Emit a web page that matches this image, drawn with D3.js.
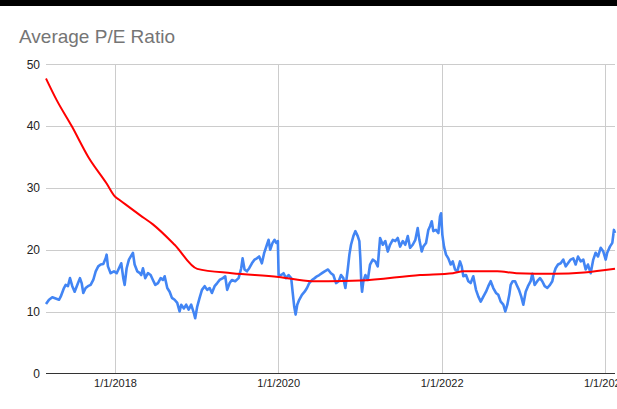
<!DOCTYPE html>
<html>
<head>
<meta charset="utf-8">
<script src="https://cdn.jsdelivr.net/npm/d3@7"></script>
<style>
  html, body { margin: 0; padding: 0; background: #fff; }
  svg { display: block; font-family: "Liberation Sans", Arial, sans-serif; }
</style>
</head>
<body>
<svg id="chart" width="617" height="409"></svg>
<script>
// ---- DATA (dates as decimal years) ----
const chartTitle = "Average P/E Ratio";

const dailyTimes = [
  2017.155,2017.192,2017.232,2017.274,2017.314,2017.335,2017.375,2017.396,2017.424,2017.449,
  2017.477,2017.506,2017.538,2017.571,2017.592,2017.612,2017.641,2017.669,2017.702,2017.734,
  2017.764,2017.795,2017.825,2017.857,2017.886,2017.898,2017.914,2017.947,2017.988,2018.021,
  2018.049,2018.077,2018.102,2018.119,2018.143,2018.171,2018.220,2018.241,2018.273,2018.306,
  2018.322,2018.343,2018.371,2018.404,2018.437,2018.465,2018.494,2018.527,2018.560,2018.588,
  2018.609,2018.641,2018.670,2018.698,2018.731,2018.763,2018.792,2018.812,2018.845,2018.873,
  2018.903,2018.934,2018.968,2018.983,2019.008,2019.037,2019.066,2019.099,2019.130,2019.160,
  2019.188,2019.221,2019.253,2019.282,2019.323,2019.351,2019.375,2019.405,2019.433,2019.473,
  2019.515,2019.547,2019.564,2019.588,2019.617,2019.645,2019.678,2019.711,2019.739,2019.767,
  2019.800,2019.829,2019.862,2019.882,2019.902,2019.931,2019.956,2019.976,2019.996,2020.005,
  2020.037,2020.066,2020.094,2020.127,2020.159,2020.176,2020.196,2020.213,2020.233,2020.257,
  2020.290,2020.323,2020.352,2020.380,2020.413,2020.446,2020.474,2020.502,2020.535,2020.568,
  2020.609,2020.645,2020.674,2020.707,2020.740,2020.768,2020.796,2020.821,2020.850,2020.870,
  2020.890,2020.919,2020.943,2020.972,2020.992,2021.004,2021.017,2021.025,2021.041,2021.066,
  2021.095,2021.123,2021.156,2021.188,2021.217,2021.246,2021.279,2021.310,2021.340,2021.368,
  2021.401,2021.433,2021.462,2021.491,2021.524,2021.555,2021.585,2021.613,2021.646,2021.678,
  2021.707,2021.727,2021.756,2021.776,2021.809,2021.837,2021.858,2021.879,2021.898,2021.931,
  2021.960,2021.980,2021.993,2022.009,2022.029,2022.054,2022.082,2022.111,2022.136,2022.164,
  2022.192,2022.225,2022.246,2022.266,2022.299,2022.327,2022.356,2022.388,2022.421,2022.450,
  2022.479,2022.511,2022.544,2022.572,2022.601,2022.633,2022.666,2022.694,2022.724,2022.756,
  2022.780,2022.805,2022.829,2022.846,2022.871,2022.900,2022.920,2022.948,2022.976,2023.001,
  2023.030,2023.058,2023.091,2023.111,2023.140,2023.172,2023.205,2023.233,2023.263,2023.295,
  2023.328,2023.356,2023.377,2023.397,2023.426,2023.459,2023.491,2023.520,2023.548,2023.581,
  2023.613,2023.642,2023.671,2023.704,2023.736,2023.765,2023.793,2023.826,2023.858,2023.887,
  2023.916,2023.949,2023.981,2024.010,2024.029,2024.062,2024.091,2024.111,2024.124
];
const dailyPE = [
  11.2,11.9,12.3,12.1,11.9,12.4,13.8,14.3,14.1,15.4,
  14.1,13.2,14.3,15.4,14.6,13.0,13.8,14.1,14.3,15.1,
  16.5,17.3,17.6,17.7,18.6,19.2,17.3,16.2,16.5,16.2,
  17.0,17.8,15.4,14.3,17.0,18.4,19.5,17.6,16.5,16.2,
  15.9,17.0,15.4,16.2,15.9,15.1,14.3,14.6,15.4,15.1,
  15.7,13.8,13.2,12.2,11.9,11.4,10.0,11.1,10.5,11.1,
  10.3,11.1,9.7,8.9,10.8,12.2,13.5,14.1,13.5,13.8,
  13.0,14.1,14.6,15.1,15.4,15.7,13.5,14.6,15.1,14.9,
  15.4,17.0,18.6,16.8,16.5,17.0,17.8,18.4,18.6,18.9,
  17.8,19.5,20.8,21.6,20.0,21.1,21.6,21.1,21.4,15.9,
  15.9,16.2,15.4,15.9,15.4,13.2,10.8,9.5,11.1,11.9,
  12.7,13.2,13.8,14.6,15.1,15.4,15.7,15.9,16.2,16.5,
  16.8,16.2,15.9,14.6,14.9,15.9,15.4,13.8,16.8,19.2,
  20.8,22.2,23.0,22.2,21.4,18.6,14.3,13.2,14.9,15.9,
  15.1,17.6,18.4,18.1,17.3,21.9,20.8,21.4,19.7,20.8,
  21.6,21.4,21.9,20.5,21.4,20.8,22.2,20.3,20.8,21.6,
  23.5,21.6,19.7,20.5,21.1,23.2,23.8,24.6,23.0,23.2,
  22.7,25.4,25.9,22.4,20.5,19.2,18.6,17.6,18.1,16.8,
  16.5,18.1,17.3,15.7,15.9,14.9,14.6,15.7,13.5,12.4,
  11.6,12.4,13.2,14.1,14.9,13.8,13.0,12.7,11.6,11.1,
  10.0,11.1,12.7,14.3,14.9,14.9,14.3,13.5,12.4,11.1,
  13.2,14.1,14.9,16.1,14.3,14.9,15.4,14.9,14.1,13.8,
  14.3,14.9,16.2,17.0,17.6,17.8,18.4,17.3,17.8,18.4,
  18.6,17.6,18.9,18.1,18.4,16.8,17.6,16.2,18.4,19.5,
  18.9,20.3,19.7,18.4,19.5,20.5,21.1,23.2,22.7
];

const avgTimes = [
  2017.155,2017.286,2017.470,2017.673,2017.898,2018.000,2018.061,2018.306,2018.465,2018.731,
  2019.008,2019.433,2020.005,2020.413,2020.609,2021.004,2021.736,2022.139,2022.266,2022.682,
  2022.915,2023.377,2023.745,2024.124
];
const avgPE = [
  47.7,44.2,40.0,35.0,30.7,28.6,28.0,25.6,24.1,20.8,
  16.9,16.2,15.6,14.9,14.9,15.0,15.9,16.2,16.5,16.5,
  16.2,16.1,16.3,16.9
];

const yTicks = [0, 10, 20, 30, 40, 50];
const xTickYears = [2018, 2020, 2022, 2024];

// ---- helpers ----
function toDate(t) {
  const y = Math.floor(t);
  const s = Date.UTC(y, 0, 1), e = Date.UTC(y + 1, 0, 1);
  return new Date(s + (t - y) * (e - s));
}

const svg = d3.select("#chart");
const W = 617, H = 409;
const plot = { left: 46, right: 615, top: 64.3, bottom: 373.3 };

// top black band
svg.append("rect").attr("x", 0).attr("y", 0).attr("width", W).attr("height", 6).attr("fill", "#000");

// title
svg.append("text")
  .attr("x", 19).attr("y", 43)
  .attr("font-size", 19).attr("fill", "#757575")
  .text(chartTitle);

const x = d3.scaleUtc()
  .domain([toDate(dailyTimes[0]), toDate(dailyTimes[dailyTimes.length - 1])])
  .range([plot.left, plot.right]);
const y = d3.scaleLinear().domain([0, 50]).range([plot.bottom, plot.top]);

const xTickDates = xTickYears.map(yr => new Date(Date.UTC(yr, 0, 1)));

// horizontal gridlines
svg.append("g").selectAll("line").data(yTicks.filter(v => v > 0)).join("line")
  .attr("x1", plot.left).attr("x2", plot.right)
  .attr("y1", d => Math.round(y(d)) + 0.5).attr("y2", d => Math.round(y(d)) + 0.5)
  .attr("stroke", "#cccccc").attr("stroke-width", 1);

// vertical gridlines
svg.append("g").selectAll("line").data(xTickDates).join("line")
  .attr("x1", d => Math.round(x(d)) + 0.5).attr("x2", d => Math.round(x(d)) + 0.5)
  .attr("y1", plot.top).attr("y2", plot.bottom)
  .attr("stroke", "#cccccc").attr("stroke-width", 1);

// y axis labels
const yAxis = d3.axisLeft(y).tickValues(yTicks).tickSize(0).tickPadding(0);
const gy = svg.append("g").attr("transform", `translate(40,0)`).call(yAxis);
gy.select(".domain").remove();
gy.selectAll("text").attr("font-size", 12).attr("fill", "#222")
  .attr("font-family", "'Liberation Sans', Arial, sans-serif");

// x axis labels
const fmt = d3.utcFormat("%-m/%-d/%Y");
const xAxis = d3.axisBottom(x).tickValues(xTickDates).tickFormat(fmt).tickSize(0).tickPadding(0);
const gx = svg.append("g").attr("transform", `translate(0,${plot.bottom + 6})`).call(xAxis);
gx.select(".domain").remove();
gx.selectAll("text").attr("font-size", 11).attr("fill", "#222")
  .attr("font-family", "'Liberation Sans', Arial, sans-serif");

// series
const blue = dailyTimes.map((t, i) => ({ d: toDate(t), v: dailyPE[i] }));
const red = avgTimes.map((t, i) => ({ d: toDate(t), v: avgPE[i] }));

svg.append("path").datum(blue)
  .attr("fill", "none").attr("stroke", "#4285F4").attr("stroke-width", 2.6)
  .attr("stroke-linejoin", "round")
  .attr("d", d3.line().x(d => x(d.d)).y(d => y(d.v)));

svg.append("path").datum(red)
  .attr("fill", "none").attr("stroke", "#FF0000").attr("stroke-width", 2)
  .attr("stroke-linejoin", "round")
  .attr("d", d3.line().curve(d3.curveMonotoneX).x(d => x(d.d)).y(d => y(d.v)));

// baseline
svg.append("line")
  .attr("x1", plot.left).attr("x2", plot.right)
  .attr("y1", Math.round(y(0)) + 0.5).attr("y2", Math.round(y(0)) + 0.5)
  .attr("stroke", "#333333").attr("stroke-width", 1);
</script>
</body>
</html>
